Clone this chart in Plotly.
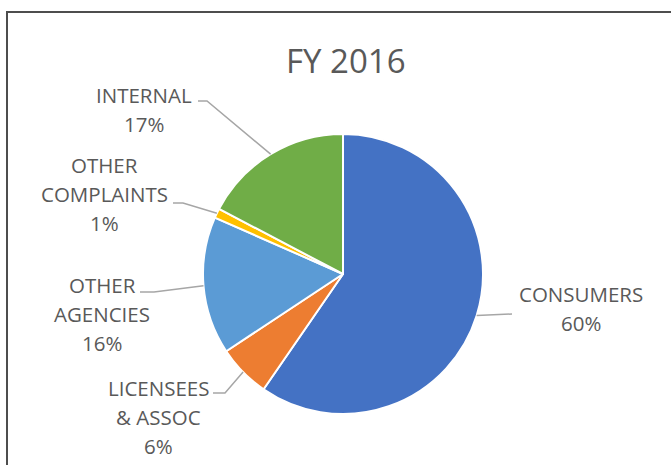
import math
import plotly.graph_objects as go

# ---- data ----
categories = ["CONSUMERS", "LICENSEES & ASSOC", "OTHER AGENCIES", "OTHER COMPLAINTS", "INTERNAL"]
label_lines = [["CONSUMERS"], ["LICENSEES", "& ASSOC"], ["OTHER", "AGENCIES"], ["OTHER", "COMPLAINTS"], ["INTERNAL"]]
shares = [59.6, 6.1, 15.9, 1.1, 17.3]
colors = ["#4472C4", "#ED7D31", "#5B9BD5", "#FFC000", "#70AD47"]
title_text = "FY 2016"

# ---- layout/style constants (pixels) ----
W, H = 671, 465
CX, CY, R = 343, 274, 140
TEXT_COLOR = "#595959"
LEADER_COLOR = "#A6A6A6"
FONT = "Open Sans"
LABEL_SIZE = 20.5
LINE_GAP = 29
# label block centres and leader-line text-side end points (style)
label_centres = [(581, 308), (158, 417), (102, 314), (104, 193.5), (144, 109)]
leader_ends = [[(512, 314)], [(213, 393), (225, 393)], [(140, 292), (154, 292)],
               [(173, 203), (183, 203)], [(198, 101), (207, 101)]]


def px(x):
    return x / W


def py(y):
    return 1 - y / H


fig = go.Figure(go.Pie(
    labels=categories, values=shares, sort=False, direction="clockwise", rotation=0,
    textinfo="none", hoverinfo="label+percent",
    marker=dict(colors=colors, line=dict(color="white", width=2)),
    domain=dict(x=[px(CX - R), px(CX + R)], y=[py(CY + R), py(CY - R)]),
))

annotations = []
shapes = []
total = sum(shares)
cum = 0.0
for i, v in enumerate(shares):
    mid = (cum + v / 2) / total * 2 * math.pi
    cum += v
    ax = CX + R * math.sin(mid)
    ay = CY - R * math.cos(mid)
    lines = label_lines[i] + [f"{round(v / total * 100)}%"]
    cx, cy = label_centres[i]
    n = len(lines)
    for k, t in enumerate(lines):
        ly = cy + (k - (n - 1) / 2) * LINE_GAP
        annotations.append(dict(x=px(cx), y=py(ly), xref="paper", yref="paper", text=t,
                                showarrow=False, xanchor="center", yanchor="middle",
                                font=dict(family=FONT, size=LABEL_SIZE, color=TEXT_COLOR)))
    pts = leader_ends[i] + [(ax, ay)]
    path = "M " + " L ".join(f"{px(x):.5f},{py(y):.5f}" for x, y in pts)
    shapes.append(dict(type="path", path=path, xref="paper", yref="paper",
                       line=dict(color=LEADER_COLOR, width=1.5)))

# title
annotations.append(dict(x=px(346), y=py(60), xref="paper", yref="paper", text=title_text,
                        showarrow=False, xanchor="center", yanchor="middle",
                        font=dict(family=FONT, size=33, color=TEXT_COLOR)))

# chart frame (top and left edges visible)
shapes.append(dict(type="path", path=f"M {px(7)},{py(470)} L {px(7)},{py(12)} L {px(680)},{py(12)}",
                   xref="paper", yref="paper", line=dict(color="#4D4D4D", width=2)))

fig.update_layout(width=W, height=H, margin=dict(l=0, r=0, t=0, b=0),
                  paper_bgcolor="white", plot_bgcolor="white", showlegend=False,
                  annotations=annotations, shapes=shapes)

fig.write_html("out.html", config={"displayModeBar": False},
               post_script="document.body.style.margin='0';document.body.style.overflow='hidden';")
